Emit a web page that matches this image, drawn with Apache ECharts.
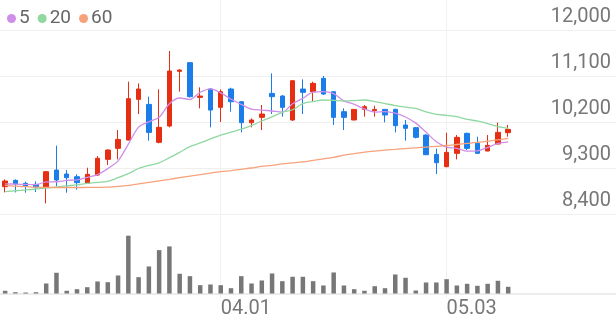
<!DOCTYPE html>
<html><head><meta charset="utf-8">
<script src="https://cdn.jsdelivr.net/npm/echarts@6/dist/echarts.min.js"></script>
<style>html,body{margin:0;padding:0;background:#fff}#c{width:616px;height:321px}</style>
</head><body><div id="c"></div>
<script>
const dates = ['02.29',
 '03.04','03.05','03.06','03.07','03.08','03.11','03.12','03.13','03.14','03.15',
 '03.18','03.19','03.20','03.21','03.22','03.25','03.26','03.27','03.28','03.29',
 '04.01','04.02','04.03','04.04','04.05','04.08','04.09','04.11','04.12','04.15',
 '04.16','04.17','04.18','04.19','04.22','04.23','04.24','04.25','04.26','04.29','04.30',
 '05.02','05.03','05.07','05.08','05.09','05.10','05.13','05.14',
 '05.16','05.17','05.20','05.21','05.22','05.23','05.24','05.27','05.28','05.29'];
const labelDates = ['04.01','05.03'];
const opens  = [8934,9058,9000,8980,8928,9260,9182,9130,9000,9163,9469,9684,9847,10643,10545,9802,10121,11191,11361,10682,10845,10487,10845,10597,10187,10291,10760,10708,10239,10845,10793,11054,10793,10402,10239,10447,10421,10447,10447,10141,10089,9945,9567,9326,9587,9978,9782,9632,9769,9991];
const closes = [9045,8987,8947,8928,9228,9065,9110,9013,9176,9489,9652,9860,10656,10845,9997,10095,11197,11217,10695,10708,10434,10793,10597,10187,10239,10356,10695,10487,11008,10780,10956,10747,10291,10291,10447,10500,10447,10337,10128,10076,9900,9560,9404,9606,9900,9684,9587,9743,9997,10056];
const lows   = [8823,8823,8817,8830,8608,8947,8817,8876,8995,9143,9358,9469,9840,10356,9834,9782,10095,10793,10682,10467,10095,10200,10402,9997,10095,10043,10356,10304,10220,10356,10610,10728,10141,10043,10235,10304,10304,10193,9997,9834,9880,9554,9182,9313,9469,9652,9574,9630,9765,9913];
const highs  = [9078,9078,9032,9039,9235,9737,9260,9176,9306,9534,9665,10043,10989,10956,10695,10839,11589,11230,11374,10878,10858,10839,10871,10610,10271,10532,11152,10728,11015,11034,10989,11100,10800,10467,10450,10532,10519,10450,10460,10239,10100,9958,9678,9991,9945,9991,9913,9945,10187,10141];
const ma5  = [8990,8985,8978,8975,9027,9031,9056,9069,9118,9171,9288,9438,9767,10100,10202,10291,10558,10670,10640,10782,10850,10769,10645,10544,10450,10434,10415,10393,10557,10665,10785,10796,10756,10613,10546,10455,10395,10404,10372,10298,10178,10000,9814,9709,9686,9631,9636,9704,9782,9813];
const ma20 = [8836,8855,8870,8889,8905,8928,8950,8970,9000,9020,9040,9110,9190,9290,9350,9400,9502,9607,9717,9790,9870,9945,10000,10060,10130,10220,10300,10390,10440,10560,10600,10630,10625,10610,10620,10630,10600,10560,10520,10490,10467,10400,10350,10330,10304,10250,10220,10170,10110,10076];
const ma60 = [8960,8945,8935,8925,8920,8918,8918,8918,8920,8922,8925,8940,8960,8990,9020,9050,9079,9110,9140,9170,9200,9228,9250,9275,9300,9330,9350,9380,9400,9420,9450,9480,9510,9550,9580,9610,9632,9650,9665,9680,9695,9710,9725,9740,9760,9780,9800,9825,9850,9880];
const volumes = [27,13,10,13,100,207,27,43,63,120,113,180,577,163,270,433,470,197,173,83,90,83,53,173,100,130,200,123,167,167,123,80,210,80,43,27,73,53,190,157,30,110,110,143,80,97,77,97,127,67];
const priceMin = 8400, priceMax = 12000, priceStep = 900;

const UP = '#e62e12', DOWN = '#1b7de9';
const C5 = '#cf8ee8', C20 = '#8fd8a0', C60 = '#f7a27c';
const FONT = 'Roboto, "Noto Sans", sans-serif';

const kData = opens.map((o, i) => [o, closes[i], lows[i], highs[i]]);
const isLabel = (idx, val) => labelDates.indexOf(dates[idx]) >= 0;

const chart = echarts.init(document.getElementById('c'), null, {renderer: 'canvas'});
chart.setOption({
  animation: false,
  backgroundColor: '#fff',
  legend: {
    data: ['5', '20', '60'],
    left: 2, top: 4,
    icon: 'circle', itemWidth: 9, itemHeight: 9, itemGap: 8,
    textStyle: {fontSize: 19, color: '#666', fontFamily: FONT, padding: [0, 0, 0, -2]},
    selectedMode: false
  },
  grid: [
    {left: 0, right: 0, top: 30, bottom: 107},
    {left: 0, right: 0, top: 235.7, bottom: 27.5},
    {left: 0, right: 0, top: 0, bottom: 23}
  ],
  xAxis: [
    {type: 'category', gridIndex: 0, data: dates, boundaryGap: true, show: false},
    {type: 'category', gridIndex: 1, data: dates, boundaryGap: true,
     axisLine: {show: true, lineStyle: {color: '#e6e6e6', width: 1.5}},
     axisTick: {show: false}, axisLabel: {show: false}, splitLine: {show: false}},
    {type: 'category', gridIndex: 2, data: dates, boundaryGap: true,
     axisLine: {show: false}, axisTick: {show: false},
     axisLabel: {show: true, interval: isLabel, align: 'left', margin: 1,
       fontSize: 20, color: '#777', fontFamily: FONT},
     splitLine: {show: true, interval: isLabel, alignWithLabel: true,
       lineStyle: {color: '#f1f1f1', width: 1}}}
  ],
  yAxis: [
    {type: 'value', gridIndex: 0, position: 'right', min: priceMin, max: priceMax, interval: priceStep,
     axisLine: {show: false}, axisTick: {show: false},
     splitLine: {show: true, lineStyle: {color: '#efefef', width: 1}},
     axisLabel: {inside: true, margin: 5, fontSize: 20, color: '#777', fontFamily: FONT,
       verticalAlign: 'bottom', padding: [0, 0, 3, 0],
       formatter: v => v.toLocaleString('en-US')}},
    {type: 'value', gridIndex: 1, min: 0, max: 'dataMax', show: false},
    {type: 'value', gridIndex: 2, min: 0, max: 1, show: false}
  ],
  series: [
    {type: 'candlestick', name: 'K', xAxisIndex: 0, yAxisIndex: 0, data: kData, barWidth: 5,
     itemStyle: {color: UP, color0: DOWN, borderColor: UP, borderColor0: DOWN, borderWidth: 1}},
    {type: 'line', name: '5', xAxisIndex: 0, yAxisIndex: 0, data: ma5, showSymbol: false, smooth: 0.3,
     lineStyle: {color: C5, width: 1.3}, itemStyle: {color: C5}, z: 3},
    {type: 'line', name: '20', xAxisIndex: 0, yAxisIndex: 0, data: ma20, showSymbol: false, smooth: 0.3,
     lineStyle: {color: C20, width: 1.3}, itemStyle: {color: C20}, z: 3},
    {type: 'line', name: '60', xAxisIndex: 0, yAxisIndex: 0, data: ma60, showSymbol: false, smooth: 0.3,
     lineStyle: {color: C60, width: 1.3}, itemStyle: {color: C60}, z: 3},
    {type: 'bar', name: 'vol', xAxisIndex: 1, yAxisIndex: 1, data: volumes, barWidth: 4.5,
     itemStyle: {color: '#777'}}
  ]
});
</script>
</body></html>
